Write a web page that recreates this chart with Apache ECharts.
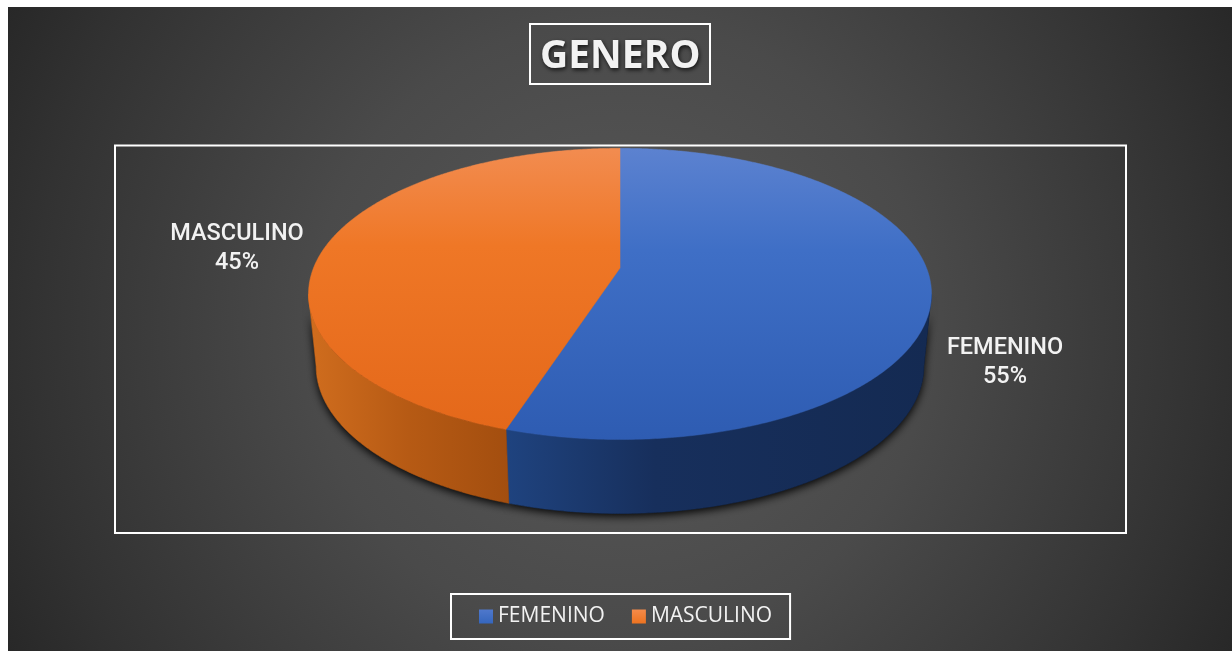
<!DOCTYPE html>
<html><head><meta charset="utf-8">
<style>html,body{margin:0;padding:0;background:#fff}#c{width:1232px;height:651px}</style>
<script src="https://cdn.jsdelivr.net/npm/echarts@6/dist/echarts.min.js"></script>
</head><body><div id="c"></div>
<script>
var categories = ['FEMENINO', 'MASCULINO'];
var values = [55, 45];
var titleText = 'GENERO';

var total = values.reduce(function (a, b) { return a + b; }, 0);
var P = 0.178;
var topDisc = { cx: 620, cy: 268, a: 141, b: 306.5 };
var baseDisc = { cx: 620, cy: 340, a: 142.6, b: 299 };
var tangentL = 360 - (180 - Math.acos(P) * 180 / Math.PI);
var tangentR = 180 - Math.acos(P) * 180 / Math.PI;

function project(d, deg) {
  var t = deg * Math.PI / 180, u = Math.sin(t), v = -Math.cos(t), k = 1 - P * v;
  return [d.cx + d.b * u / k, d.cy + d.a * v / k];
}
function arc(d, a0, a1) {
  var pts = [], n = Math.max(2, Math.ceil(Math.abs(a1 - a0) * 2));
  for (var i = 0; i <= n; i++) pts.push(project(d, a0 + (a1 - a0) * i / n));
  return pts;
}
function grad(x2, y2, stops) {
  return { type: 'linear', x: 0, y: 0, x2: x2, y2: y2, colorStops: stops.map(function (c) {
    return { offset: c[0], color: c[1] };
  }) };
}
var topFill = [
  grad(0, 1, [[0, '#5c82d0'], [0.35, '#3f6fc6'], [1, '#2e5cb2']]),
  grad(0, 1, [[0, '#f28c50'], [0.35, '#ef7726'], [1, '#e4681a']])
];
var wallFill = [
  grad(1, 0, [[0, '#1f437f'], [0.35, '#172f5c'], [1, '#142a52']]),
  grad(1, 0, [[0, '#d06d1e'], [0.5, '#b65a14'], [1, '#a34e0f']])
];
var legendFill = [
  grad(0, 1, [[0, '#4f78cc'], [1, '#3566bd']]),
  grad(0, 1, [[0, '#f58b4a'], [1, '#ed7320']])
];
var labelAt = [[1005, 363], [237, 249]];

function sliceRenderer(idx) {
  return function (params, api) {
    var before = 0;
    for (var i = 0; i < idx; i++) before += values[i];
    var a0 = before / total * 360, a1 = a0 + api.value(0) / total * 360;
    var w0 = Math.max(a0, tangentR), w1 = Math.min(a1, tangentL);
    var topPts = [[topDisc.cx, topDisc.cy]].concat(arc(topDisc, a0, a1));
    var children = [];
    if (w1 > w0) {
      var wallPts = arc(topDisc, w0, w1).concat(arc(baseDisc, w0, w1).reverse());
      children.push({ type: 'polygon', z2: 1, shape: { points: wallPts },
        style: { fill: '#000', shadowBlur: 9, shadowColor: 'rgba(0,0,0,0.95)', shadowOffsetX: 0, shadowOffsetY: 3 } });
      children.push({ type: 'polygon', z2: 2, shape: { points: wallPts },
        style: { fill: wallFill[idx], stroke: wallFill[idx], lineWidth: 0.6 } });
    }
    children.push({ type: 'polygon', z2: 3, shape: { points: topPts },
      style: { fill: topFill[idx], stroke: topFill[idx], lineWidth: 0.5 } });
    children.push({ type: 'text', z2: 4, x: labelAt[idx][0], y: labelAt[idx][1],
      style: { text: categories[idx] + '\n' + api.value(0) + '%', fill: '#f2f2f2',
        font: '500 23.5px Roboto', align: 'center', verticalAlign: 'middle', lineHeight: 29 } });
    return { type: 'group', children: children };
  };
}

var chart = echarts.init(document.getElementById('c'), null, { renderer: 'canvas' });
chart.setOption({
  animation: false,
  backgroundColor: '#ffffff',
  title: {
    text: titleText, left: 530, top: 24,
    padding: [10, 10, 5, 10],
    borderColor: '#ffffff', borderWidth: 2,
    textStyle: { color: '#f2f2f2', fontFamily: 'Open Sans', fontWeight: 'bold', fontSize: 39,
      lineHeight: 45, textShadowColor: 'rgba(0,0,0,0.75)', textShadowBlur: 4, textShadowOffsetY: 2, textShadowOffsetX: 1 }
  },
  legend: {
    data: categories, left: 451, top: 594, orient: 'horizontal',
    padding: [11, 18, 11, 28], itemGap: 27, itemWidth: 14, itemHeight: 14, icon: 'rect',
    selectedMode: false, borderColor: '#ffffff', borderWidth: 2,
    textStyle: { color: '#f2f2f2', fontFamily: 'Open Sans', fontSize: 21, lineHeight: 23 }
  },
  graphic: [
    { type: 'rect', z: -10, silent: true, shape: { x: 8, y: 7, width: 1224, height: 644 },
      style: { fill: { type: 'radial', x: 620, y: 330, r: 690, global: true, colorStops: [
        { offset: 0, color: '#5a5a5a' }, { offset: 0.45, color: '#4a4a4a' },
        { offset: 0.85, color: '#323232' }, { offset: 1, color: '#282828' } ] } } },
    { type: 'rect', z: -5, silent: true, shape: { x: 115, y: 145.5, width: 1011, height: 387.5 },
      style: { fill: 'transparent', stroke: '#ffffff', lineWidth: 2 } }
  ],
  series: categories.map(function (name, i) {
    return {
      type: 'custom', name: name, coordinateSystem: 'none',
      data: [[values[i]]], renderItem: sliceRenderer(i), silent: true,
      itemStyle: { color: legendFill[i] }
    };
  })
});
</script></body></html>
